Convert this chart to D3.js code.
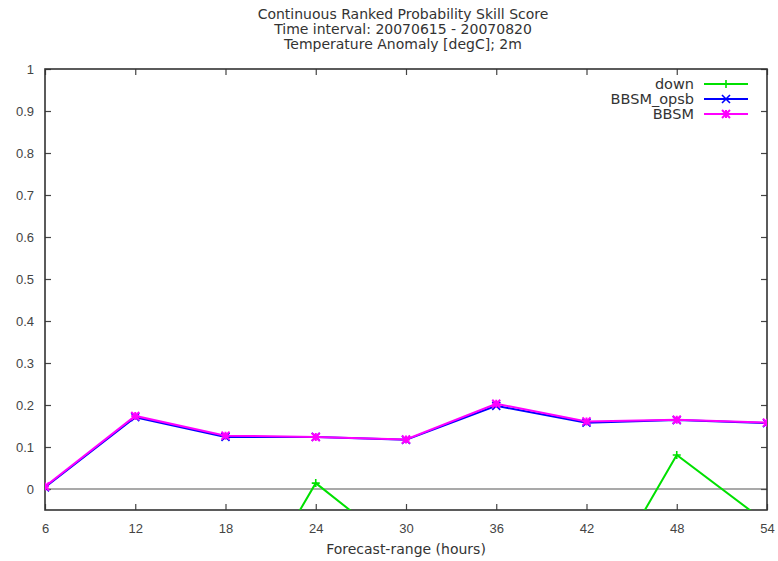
<!DOCTYPE html>
<html>
<head>
<meta charset="utf-8" />
<script src="https://d3js.org/d3.v7.min.js"></script>
<style>
  body { margin: 0; background: #fff; }
  svg text { font-family: "DejaVu Sans", sans-serif; fill: #333; }
</style>
</head>
<body>
<div id="chart"></div>
<script>
// Données
const hours = [6, 12, 18, 24, 30, 36, 42, 48, 54];
const yTicks = [0, 0.1, 0.2, 0.3, 0.4, 0.5, 0.6, 0.7, 0.8, 0.9, 1];
const downValues = [-0.25, -0.3, -0.353, 0.014, -0.156, -0.2, -0.29, 0.081, -0.081];
const opsbValues = [0.004, 0.171, 0.124, 0.124, 0.117, 0.198, 0.158, 0.164, 0.157];
const bbsmValues = [0.006, 0.174, 0.127, 0.124, 0.118, 0.203, 0.161, 0.165, 0.158];
const seriesNames = ["down", "BBSM_opsb", "BBSM"];
const seriesColors = ["#00e000", "#0000ff", "#ff00ff"];
const titleLines = [
  "Continuous Ranked Probability Skill Score",
  "Time interval: 20070615 - 20070820",
  "Temperature Anomaly [degC]; 2m"
];

const W = 778, H = 561;
const margin = { left: 45, right: 11, top: 69, bottom: 51 };

const svg = d3.select("#chart").append("svg")
  .attr("width", W).attr("height", H);

const x = d3.scaleLinear().domain([6, 54]).range([margin.left, W - margin.right]);
const y = d3.scaleLinear().domain([-0.05, 1]).range([H - margin.bottom, margin.top]);

// titre
svg.append("g").selectAll("text")
  .data(titleLines)
  .enter().append("text")
  .attr("x", 403)
  .attr("y", (d, i) => 19 + i * 15)
  .attr("text-anchor", "middle")
  .style("font-size", "14px")
  .text(d => d);

// axes avec graduations vers l'intérieur
const tickLen = 6;
const xAxis = svg.append("g")
  .attr("transform", `translate(0,${y(-0.05)})`)
  .call(d3.axisBottom(x).tickValues(hours).tickSizeInner(-tickLen).tickSizeOuter(0).tickPadding(14));
const yAxis = svg.append("g")
  .attr("transform", `translate(${x(6)},0)`)
  .call(d3.axisLeft(y).tickValues(yTicks).tickSizeInner(-tickLen).tickSizeOuter(0).tickPadding(11)
    .tickFormat(d => d3.format("")(d)));
const xTop = svg.append("g")
  .attr("transform", `translate(0,${y(1)})`)
  .call(d3.axisTop(x).tickValues(hours).tickSizeInner(-tickLen).tickSizeOuter(0).tickFormat(""));
const yRight = svg.append("g")
  .attr("transform", `translate(${x(54)},0)`)
  .call(d3.axisRight(y).tickValues(yTicks).tickSizeInner(-tickLen).tickSizeOuter(0).tickFormat(""));

[xAxis, yAxis, xTop, yRight].forEach(g => {
  g.select(".domain").remove();
  g.selectAll(".tick line").attr("stroke", "#444").attr("stroke-width", 1.2);
  g.selectAll(".tick text").style("font-size", "13px").style("fill", "#444")
    .style("font-family", "Liberation Sans, Arial, sans-serif");
});

// ligne zéro
svg.append("line")
  .attr("x1", x(6)).attr("x2", x(54))
  .attr("y1", y(0)).attr("y2", y(0))
  .attr("stroke", "#555").attr("stroke-width", 1.2);

// cadre
svg.append("rect")
  .attr("x", x(6)).attr("y", y(1))
  .attr("width", x(54) - x(6)).attr("height", y(-0.05) - y(1))
  .attr("fill", "none").attr("stroke", "#333").attr("stroke-width", 1.6);

// label axe x
svg.append("text")
  .attr("x", 406).attr("y", 554)
  .attr("text-anchor", "middle")
  .style("font-size", "14px")
  .text("Forecast-range (hours)");

// zone de découpage
svg.append("clipPath").attr("id", "plotClip")
  .append("rect")
  .attr("x", x(6)).attr("y", y(1))
  .attr("width", x(54) - x(6)).attr("height", y(-0.05) - y(1));

const line = d3.line().x((d, i) => x(hours[i])).y(d => y(d));

// forme des symboles
function marker(g, type, color) {
  const s = 4;
  const p = g.append("path")
    .attr("fill", "none").attr("stroke", color).attr("stroke-width", 1.6);
  if (type === 0) p.attr("d", `M${-s},0H${s}M0,${-s}V${s}`);
  else if (type === 1) p.attr("d", `M${-s},${-s}L${s},${s}M${-s},${s}L${s},${-s}`);
  else p.attr("d", `M${-s},0H${s}M0,${-s}V${s}M${-s},${-s}L${s},${s}M${-s},${s}L${s},${-s}`).attr("stroke-width", 2);
}

const allSeries = [downValues, opsbValues, bbsmValues];
const plot = svg.append("g").attr("clip-path", "url(#plotClip)");

allSeries.forEach((vals, k) => {
  plot.append("path")
    .datum(vals)
    .attr("d", line)
    .attr("fill", "none")
    .attr("stroke", seriesColors[k])
    .attr("stroke-width", 2);
  vals.forEach((v, i) => {
    const g = plot.append("g").attr("transform", `translate(${x(hours[i])},${y(v)})`);
    marker(g, k, seriesColors[k]);
  });
});

// légende
const legend = svg.append("g");
seriesNames.forEach((name, k) => {
  const ly = 84 + k * 15;
  legend.append("text")
    .attr("x", 694).attr("y", ly + 5)
    .attr("text-anchor", "end")
    .style("font-size", "14.5px")
    .text(name);
  legend.append("line")
    .attr("x1", 704).attr("x2", 748)
    .attr("y1", ly).attr("y2", ly)
    .attr("stroke", seriesColors[k]).attr("stroke-width", 2);
  const g = legend.append("g").attr("transform", `translate(726,${ly})`);
  marker(g, k, seriesColors[k]);
});
</script>
</body>
</html>
